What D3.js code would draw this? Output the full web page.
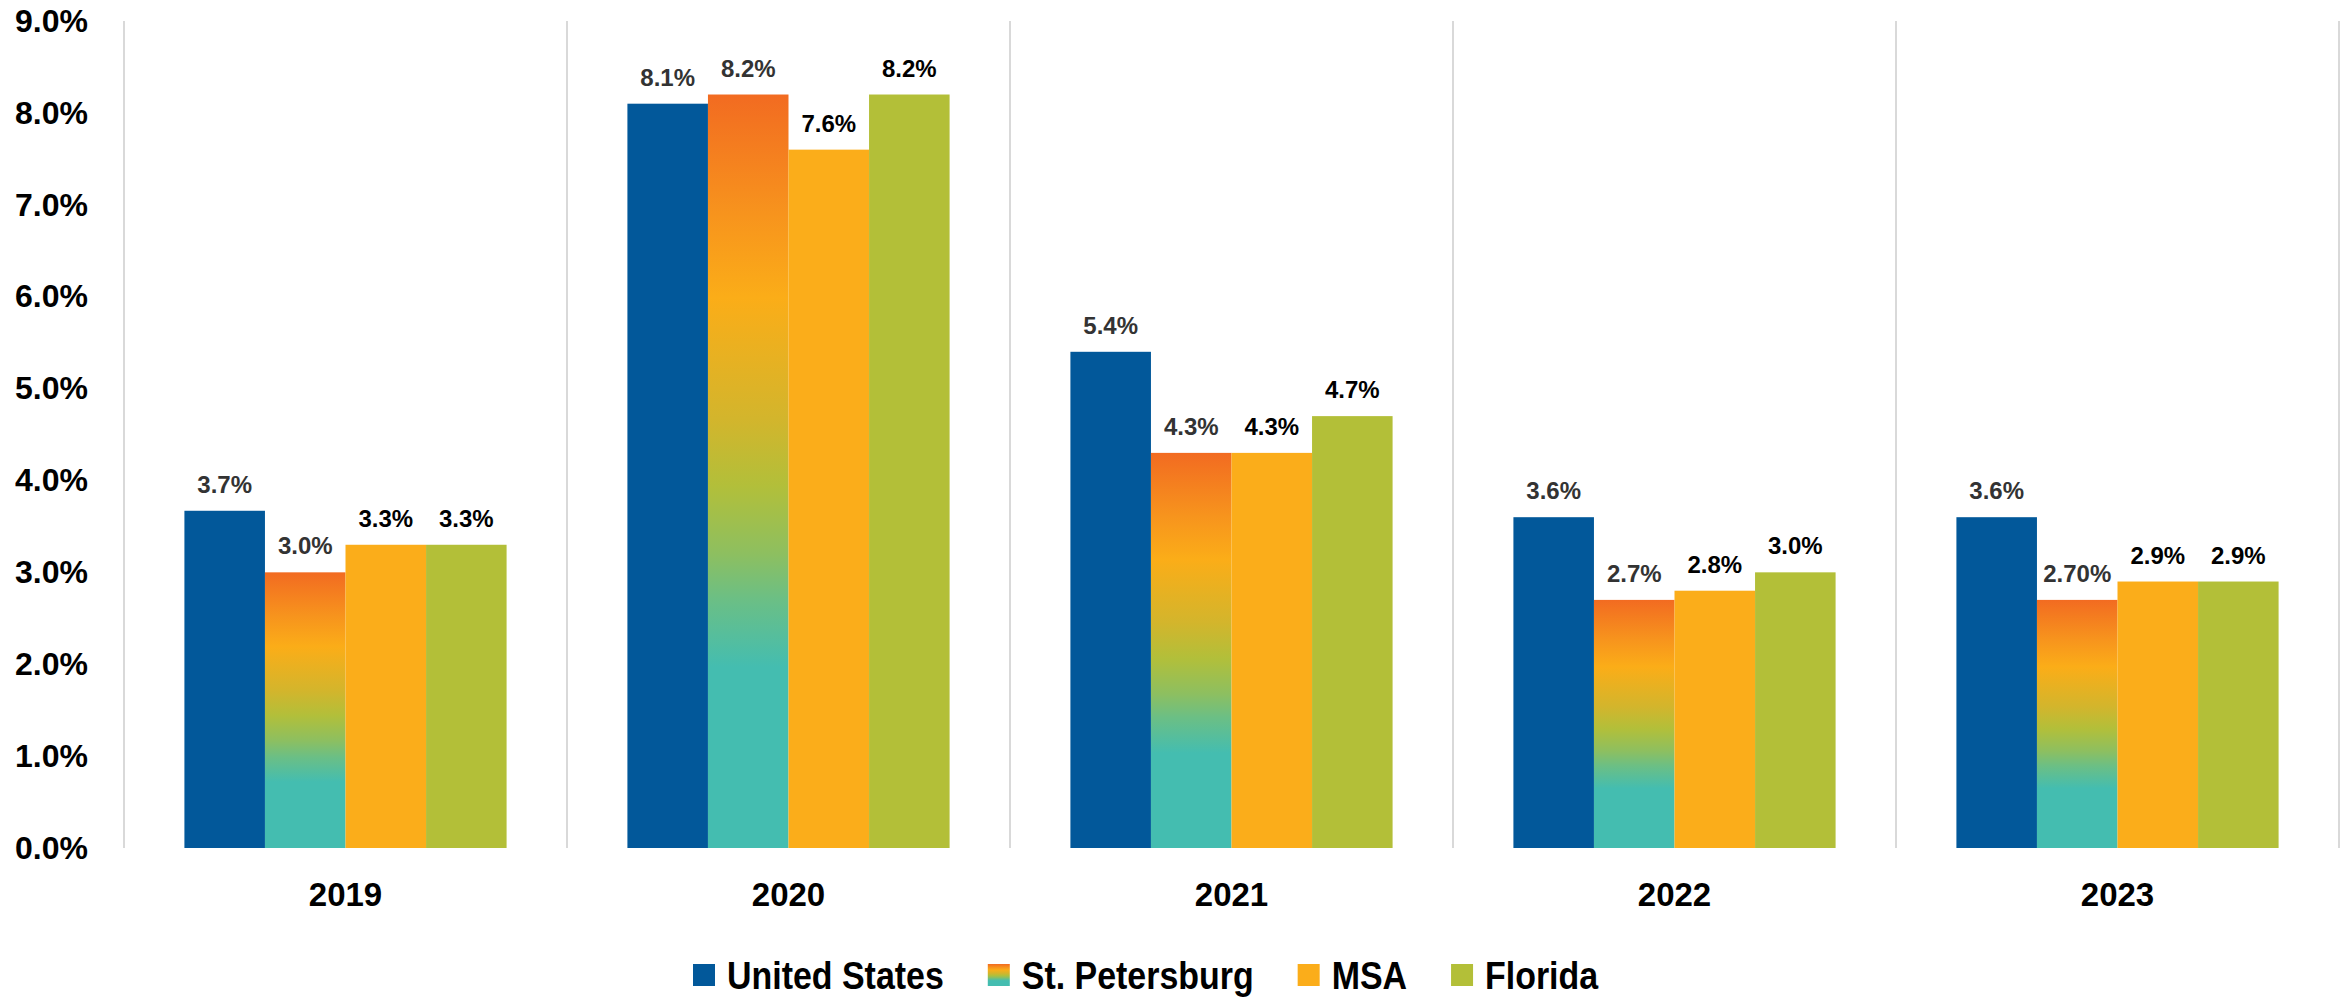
<!DOCTYPE html>
<html>
<head>
<meta charset="utf-8">
<title>Unemployment rate 2019-2023</title>
<script src="https://cdn.jsdelivr.net/npm/d3@7"></script>
<style>
  body { margin: 0; background: #fff; }
  text { font-family: "Liberation Sans", Arial, sans-serif; font-weight: bold; }
</style>
</head>
<body>
<div id="chart"></div>
<script>
// data
var years = ["2019", "2020", "2021", "2022", "2023"];
var seriesNames = ["United States", "St. Petersburg", "MSA", "Florida"];
var unitedStates = [3.67, 8.1, 5.4, 3.6, 3.6];
var stPetersburg = [3.0, 8.2, 4.3, 2.7, 2.7];
var msa = [3.3, 7.6, 4.3, 2.8, 2.9];
var florida = [3.3, 8.2, 4.7, 3.0, 2.9];
var usLabels = ["3.7%", "8.1%", "5.4%", "3.6%", "3.6%"];
var stPeteLabels = ["3.0%", "8.2%", "4.3%", "2.7%", "2.70%"];
var msaLabels = ["3.3%", "7.6%", "4.3%", "2.8%", "2.9%"];
var floridaLabels = ["3.3%", "8.2%", "4.7%", "3.0%", "2.9%"];
var yTicks = [0, 1, 2, 3, 4, 5, 6, 7, 8, 9];

var allValues = [unitedStates, stPetersburg, msa, florida];
var allLabels = [usLabels, stPeteLabels, msaLabels, floridaLabels];
var colors = ["#02589A", "url(#stpete)", "#FBAD1A", "#B3BF38"];
var labelColors = ["#333333", "#333333", "#000000", "#000000"];

var W = 2349, H = 998;
var svg = d3.select("#chart").append("svg")
    .attr("width", W)
    .attr("height", H);

// gradient for St. Petersburg
var grad = svg.append("defs").append("linearGradient")
    .attr("id", "stpete")
    .attr("x1", 0).attr("y1", 0).attr("x2", 0).attr("y2", 1);
[["0%", "#F26B21"], ["16%", "#F7941D"], ["27%", "#FBAD18"], ["43%", "#D3B52C"],
 ["52%", "#B2BF3A"], ["61%", "#8DBF60"], ["67%", "#6BBF85"], ["76%", "#44BDB0"],
 ["100%", "#44BDB0"]].forEach(function (s) {
    grad.append("stop").attr("offset", s[0]).attr("stop-color", s[1]);
});

// scales
var x0 = d3.scaleBand().domain(years).range([124, 2339]).padding(0);
var x1 = d3.scaleBand().domain(seriesNames).range([0, x0.bandwidth()])
    .paddingInner(0).paddingOuter(0.75);
var y = d3.scaleLinear().domain([0, 9]).range([848, 21]);

// vertical separators
var bounds = years.map(function (d) { return x0(d); }).concat([x0.range()[1]]);
svg.append("g").selectAll("line")
    .data(bounds)
    .enter().append("line")
    .attr("x1", function (d) { return d; })
    .attr("x2", function (d) { return d; })
    .attr("y1", y(9))
    .attr("y2", y(0))
    .attr("stroke", "#d9d9d9")
    .attr("stroke-width", 2);

// y axis
var yAxis = svg.append("g")
    .attr("transform", "translate(124,0)")
    .call(d3.axisLeft(y).tickValues(yTicks).tickSize(0).tickPadding(36)
        .tickFormat(function (d) { return d.toFixed(1) + "%"; }));
yAxis.select(".domain").remove();
yAxis.selectAll("text")
    .style("font-size", "32px")
    .style("font-family", "'Liberation Sans', Arial, sans-serif")
    .style("font-weight", "bold")
    .attr("fill", "#000");

// x axis
var xAxis = svg.append("g")
    .attr("transform", "translate(0,848)")
    .call(d3.axisBottom(x0).tickSize(0).tickPadding(35));
xAxis.select(".domain").remove();
xAxis.selectAll("text")
    .style("font-size", "33px")
    .style("font-family", "'Liberation Sans', Arial, sans-serif")
    .style("font-weight", "bold")
    .attr("fill", "#000");

// bars
var rows = [];
years.forEach(function (yr, i) {
    seriesNames.forEach(function (s, j) {
        rows.push({ year: yr, series: s, idx: j, value: allValues[j][i], label: allLabels[j][i] });
    });
});

svg.append("g").selectAll("rect")
    .data(rows)
    .enter().append("rect")
    .attr("x", function (d) { return x0(d.year) + x1(d.series); })
    .attr("y", function (d) { return y(d.value); })
    .attr("width", x1.bandwidth())
    .attr("height", function (d) { return y(0) - y(d.value); })
    .attr("fill", function (d) { return colors[d.idx]; });

// value labels
svg.append("g").selectAll("text")
    .data(rows)
    .enter().append("text")
    .attr("x", function (d) { return x0(d.year) + x1(d.series) + x1.bandwidth() / 2; })
    .attr("y", function (d) { return y(d.value) - 18; })
    .attr("text-anchor", "middle")
    .style("font-size", "24px")
    .attr("fill", function (d) { return labelColors[d.idx]; })
    .text(function (d) { return d.label; });

// legend (condensed bold text)
var squeeze = 0.87;
var legend = svg.append("g").attr("transform", "translate(693,0)");
var lx = 0;
seriesNames.forEach(function (s, j) {
    legend.append("rect")
        .attr("x", lx).attr("y", 964)
        .attr("width", 22).attr("height", 22)
        .attr("fill", colors[j]);
    var t = legend.append("text")
        .attr("transform", "translate(" + (lx + 34) + ",989) scale(" + squeeze + ",1)")
        .style("font-size", "39px")
        .attr("fill", "#000")
        .text(s);
    lx += 34 + t.node().getComputedTextLength() * squeeze + 44;
});
</script>
</body>
</html>
